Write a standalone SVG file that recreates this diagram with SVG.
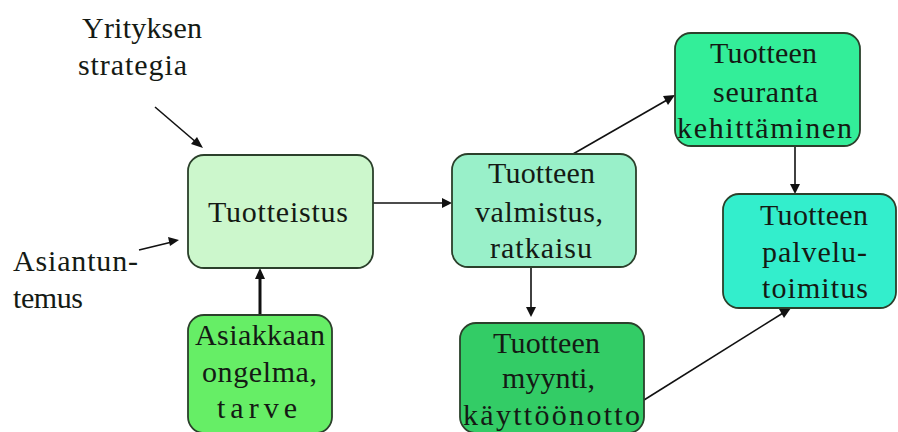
<svg xmlns="http://www.w3.org/2000/svg" width="898" height="432" viewBox="0 0 898 432">
<style>
.box{stroke:#2b402b;stroke-width:1.8}
.t text{fill:#141a14;font-family:"Liberation Serif",serif;font-size:30px}
.c{stroke:#111;stroke-width:1.6;fill:none}
.h{fill:#111}
</style>
<rect width="898" height="432" fill="#fff"/>
<g id="connectors">
<line class="c" x1="155" y1="107" x2="197" y2="143"/>
<polygon class="h" points="203,148 191,144 197,137"/>
<line class="c" x1="139" y1="250" x2="172" y2="242"/>
<polygon class="h" points="179,240 170,246 168,237"/>
<line class="c" x1="260" y1="315" x2="260" y2="276" style="stroke-width:3"/>
<polygon class="h" points="260,268 265,279 255,279"/>
<line class="c" x1="373" y1="203" x2="444" y2="203"/>
<polygon class="h" points="452,203 442,198 442,208"/>
<line class="c" x1="531" y1="267" x2="531" y2="308"/>
<polygon class="h" points="531,317 526,307 536,307"/>
<line class="c" x1="573" y1="154" x2="667" y2="100"/>
<polygon class="h" points="675,95 668,105 663,96"/>
<line class="c" x1="795" y1="146" x2="795" y2="185"/>
<polygon class="h" points="795,194 790,184 800,184"/>
<line class="c" x1="644" y1="400" x2="783" y2="313"/>
<polygon class="h" points="791,308 784,318 779,309"/>
</g>
<g id="lbl-strategia" class="t">
<text x="82" y="38" textLength="120" lengthAdjust="spacing">Yrityksen</text>
<text x="78" y="75" textLength="109" lengthAdjust="spacing">strategia</text>
</g>
<g id="lbl-asiantuntemus" class="t">
<text x="13" y="271" textLength="125" lengthAdjust="spacing">Asiantun-</text>
<text x="13" y="308" textLength="70" lengthAdjust="spacing">temus</text>
</g>
<g id="n-tuotteistus" class="t">
<rect class="box" x="188" y="155" width="185" height="113" rx="16" fill="#ccf7cc"/>
<text x="208" y="222" textLength="140" lengthAdjust="spacing">Tuotteistus</text>
</g>
<g id="n-valmistus" class="t">
<rect class="box" x="452" y="154" width="184" height="113" rx="16" fill="#99f0c9"/>
<text x="488" y="183" textLength="107" lengthAdjust="spacing">Tuotteen</text>
<text x="475" y="222" textLength="128" lengthAdjust="spacing">valmistus,</text>
<text x="490" y="258" textLength="102" lengthAdjust="spacing">ratkaisu</text>
</g>
<g id="n-myynti" class="t">
<rect class="box" x="460" y="323" width="184" height="110" rx="16" fill="#33cc66"/>
<text x="493" y="353" textLength="107" lengthAdjust="spacing">Tuotteen</text>
<text x="502" y="388" textLength="93" lengthAdjust="spacing">myynti,</text>
<text x="463" y="425" textLength="177" lengthAdjust="spacing">käyttöönotto</text>
</g>
<g id="n-seuranta" class="t">
<rect class="box" x="675" y="33" width="185" height="113" rx="16" fill="#33ee99"/>
<text x="710" y="63" textLength="107" lengthAdjust="spacing">Tuotteen</text>
<text x="713" y="102" textLength="105" lengthAdjust="spacing">seuranta</text>
<text x="677" y="138" textLength="175" lengthAdjust="spacing">kehittäminen</text>
</g>
<g id="n-palvelu" class="t">
<rect class="box" x="723" y="194" width="173" height="114" rx="16" fill="#33eecc"/>
<text x="760" y="225" textLength="108" lengthAdjust="spacing">Tuotteen</text>
<text x="762" y="262" textLength="105" lengthAdjust="spacing">palvelu-</text>
<text x="762" y="298" textLength="106" lengthAdjust="spacing">toimitus</text>
</g>
<g id="n-asiakkaan" class="t">
<rect class="box" x="188" y="315" width="144" height="118" rx="16" fill="#66ee66"/>
<text x="195" y="345" textLength="130" lengthAdjust="spacing">Asiakkaan</text>
<text x="202" y="382" textLength="115" lengthAdjust="spacing">ongelma,</text>
<text x="217" y="418" textLength="80" lengthAdjust="spacing">tarve</text>
</g>
</svg>
